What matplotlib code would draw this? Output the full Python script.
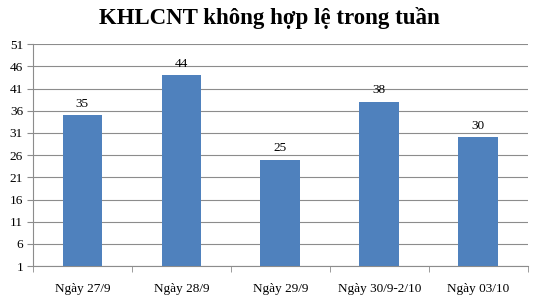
import numpy as np
import matplotlib.pyplot as plt

categories = ['Ngày 27/9', 'Ngày 28/9', 'Ngày 29/9', 'Ngày 30/9-2/10', 'Ngày 03/10']
values = [35, 44, 25, 38, 30]
yticks = [1, 6, 11, 16, 21, 26, 31, 36, 41, 46, 51]
title = 'KHLCNT không hợp lệ trong tuần'

plt.rcParams['font.family'] = ['Liberation Serif', 'DejaVu Serif']

fig = plt.figure(figsize=(5.38, 3.0), dpi=100)
ax = fig.add_axes([0.061, 0.113, 0.92, 0.74])

x = np.arange(len(categories))
ax.bar(x, [v - 1 for v in values], bottom=1, width=0.4, color='#4F81BD', zorder=3)
for xi, v in zip(x, values):
    ax.text(xi, v + 1.2, str(v), ha='center', va='bottom', fontsize=9.5)

ax.set_ylim(1, 51)
ax.set_xlim(-0.5, len(categories) - 0.5)
ax.set_yticks(yticks)
ax.set_yticklabels([str(t) for t in yticks], fontsize=9.5)
ax.yaxis.grid(True, color='#8c8c8c', linewidth=0.8, zorder=0)
ax.tick_params(axis='y', length=4, color='#8c8c8c', pad=3)

ax.set_xticks(x)
ax.set_xticklabels(categories, fontsize=9.5)
ax.tick_params(axis='x', length=0, pad=12)
ax.set_xticks(np.arange(-0.5, len(categories)), minor=True)
ax.tick_params(axis='x', which='minor', length=4, color='#8c8c8c')

for side in ['top', 'right']:
    ax.spines[side].set_visible(False)
ax.spines['left'].set_color('#8c8c8c')
ax.spines['bottom'].set_color('#8c8c8c')

fig.suptitle(title, fontsize=16.5, fontweight='bold', y=0.978)

fig.savefig('out.png', dpi=100)
